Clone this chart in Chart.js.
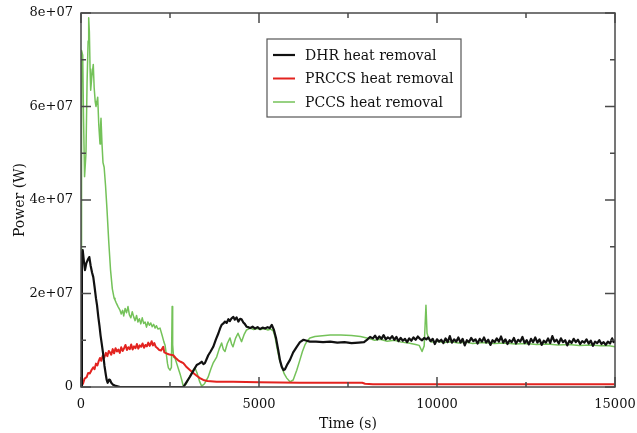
<!DOCTYPE html>
<html>
<head>
<meta charset="utf-8">
<title>Heat removal</title>
<script src="https://cdn.jsdelivr.net/npm/chart.js@4.4.1/dist/chart.umd.min.js"></script>
<style>
  body { margin: 0; background: #fff; }
  #wrap { width: 637px; height: 433px; position: relative; }
</style>
</head>
<body>
<div id="wrap"><canvas id="power-chart"></canvas></div>
<script>
// Heat removal per system, time in s, power in MW (scaled to W below)
const dhrTime = [0, 25, 48, 80, 112, 150, 190, 233, 270, 310, 345, 380, 420, 450, 486, 520, 550, 580, 620, 660, 700, 722, 750, 790, 815, 850, 900, 950, 1000, 1100, 2850, 2875,
  2960, 3060, 3150, 3250, 3320, 3390, 3440, 3480, 3530, 3575, 3640, 3715, 3790, 3860, 3910, 3950, 4000, 4045, 4090, 4140, 4180, 4230, 4280, 4320, 4370, 4420, 4470, 4510,
  4560, 4600, 4650, 4700, 4750, 4820, 4890, 4960, 5030, 5100, 5170, 5240, 5300, 5360, 5420, 5480, 5540, 5590, 5640, 5690, 5730, 5800, 5870, 5960, 6060, 6150, 6250, 6340,
  6430, 6600, 6800, 7000, 7200, 7400, 7600, 7800, 7950, 8050, 8120,
  8200, 8260, 8320, 8380, 8440, 8500, 8560, 8620, 8680, 8740, 8800, 8860, 8920, 8980, 9040, 9100, 9160, 9220, 9280, 9340, 9400, 9460, 9520, 9580, 9640, 9700, 9760, 9820,
  9880, 9940, 10000, 10060, 10120, 10180, 10240, 10300, 10360, 10420, 10480, 10540, 10600, 10660, 10720, 10780, 10840, 10900, 10960, 11020, 11080, 11140, 11200, 11260,
  11320, 11380, 11440, 11500, 11560, 11620, 11680, 11740, 11800, 11860, 11920, 11980, 12040, 12100, 12160, 12220, 12280, 12340, 12400, 12460, 12520, 12580, 12640, 12700,
  12760, 12820, 12880, 12940, 13000, 13060, 13120, 13180, 13240, 13300, 13360, 13420, 13480, 13540, 13600, 13660, 13720, 13780, 13840, 13900, 13960, 14020, 14080, 14140,
  14200, 14260, 14320, 14380, 14440, 14500, 14560, 14620, 14680, 14740, 14800, 14860, 14920, 14960, 15000];
const dhrPower = [0, 28.5, 29.3, 27.0, 25.0, 26.5, 27.2, 27.8, 26.0, 24.5, 23.5, 21.5, 19.0, 17.5, 15.0, 13.0, 11.0, 9.4, 7.2, 4.5, 2.5, 1.5, 0.9, 1.6, 1.5, 0.9, 0.5, 0.3, 0.2, 0, 0, 0,
  1.0, 2.2, 3.4, 4.7, 5.0, 5.4, 4.9, 5.1, 6.0, 6.8, 7.6, 8.6, 10.2, 11.5, 12.6, 13.3, 13.6, 14.0, 13.7, 14.5, 14.1, 14.7, 15.0, 14.4, 14.9, 14.0, 14.6, 14.5,
  13.8, 13.5, 12.9, 12.8, 12.6, 12.9, 12.5, 12.8, 12.4, 12.7, 12.5, 12.8, 12.6, 13.3, 12.2, 10.4, 7.9, 5.7, 4.3, 3.6, 3.8, 4.9, 5.8, 7.4, 8.6, 9.6, 10.1, 9.9,
  9.7, 9.7, 9.6, 9.7, 9.5, 9.6, 9.4, 9.5, 9.6, 10.2, 10.7,
  10.4, 11.0, 10.2, 10.8, 10.3, 11.1, 10.2, 10.6, 10.3, 10.9, 10.1, 10.7, 9.8, 10.5, 9.9, 10.3, 9.6, 10.4, 9.9, 10.6, 10.1, 10.8, 10.3, 10.0, 10.5, 10.2, 10.6, 9.8,
  10.3, 9.2, 10.2, 9.7, 10.1, 9.4, 10.4, 9.6, 10.9, 9.5, 10.2, 9.7, 10.6, 9.5, 10.3, 8.9, 10.0, 9.6, 10.5, 9.8, 10.2, 9.3, 10.3, 9.7,
  10.6, 9.5, 10.1, 9.0, 10.0, 9.6, 10.4, 9.7, 10.8, 9.5, 10.2, 9.2, 10.0, 9.6, 10.5, 9.3, 10.1, 9.7, 10.7, 9.4, 10.0, 9.1, 10.3, 9.6,
  10.6, 9.5, 10.2, 9.0, 9.9, 9.5, 10.4, 9.4, 10.9, 9.7, 10.1, 9.3, 10.4, 9.6, 10.0, 8.9, 9.9, 9.4, 10.3, 9.6, 10.1, 9.2, 9.8, 9.5,
  10.2, 9.3, 9.9, 8.8, 9.7, 9.4, 10.0, 9.2, 9.6, 9.0, 9.7, 9.3, 10.4, 9.6, 9.8];

const prccsTime = [0, 60, 100, 160, 200, 250, 300, 345, 380, 420, 460, 500, 534, 570, 610, 650, 700, 740, 780, 815, 850, 890, 930, 970, 1010, 1050, 1090, 1130, 1170,
  1210, 1250, 1290, 1330, 1370, 1410, 1450, 1490, 1530, 1570, 1610, 1650, 1690, 1730, 1770, 1810, 1850, 1890, 1930, 1960, 1985, 2020, 2060, 2100, 2150, 2200, 2250,
  2310, 2340, 2400, 2460, 2520, 2590, 2660, 2730, 2800, 2875, 2950, 3050, 3155, 3250, 3340, 3435, 3550, 3810, 4270, 5000, 6150, 7000, 7900, 7980, 8200, 15000];
const prccsPower = [0, 0.8, 1.8, 2.1, 3.0, 2.9, 3.7, 4.2, 3.8, 5.0, 4.6, 5.6, 6.2, 5.6, 6.7, 6.2, 7.3, 6.6, 7.7, 7.4, 6.9, 8.1, 7.2, 8.3, 7.6, 8.0, 7.3, 8.5, 7.7,
  8.3, 9.0, 7.9, 8.5, 8.1, 9.1, 8.0, 8.7, 8.3, 9.2, 8.2, 8.9, 8.6, 9.3, 8.4, 9.0, 8.7, 9.5, 8.8, 9.3, 9.8, 8.9, 9.4, 8.6, 8.3, 7.9, 7.8,
  8.6, 7.4, 7.2, 7.0, 6.9, 6.8, 6.2, 5.7, 5.4, 5.1, 4.4, 3.7, 3.0, 2.4, 1.9, 1.5, 1.3, 1.1, 1.1, 1.0, 0.9, 0.9, 0.9, 0.7, 0.6, 0.6];

const pccsTime = [0, 15, 48, 70, 100, 140, 170, 200, 216, 235, 255, 272, 300, 345, 370, 400, 421, 445, 469, 500, 534, 550, 562, 590, 618, 650, 690, 730, 780, 830,
  880, 930, 955, 990, 1040, 1090, 1130, 1170, 1200, 1240, 1280, 1320, 1360, 1400, 1440, 1480, 1520, 1560, 1600, 1640, 1680, 1720, 1760, 1800, 1840, 1880, 1920, 1960,
  2000, 2040, 2080, 2120, 2160, 2220, 2280, 2330, 2360, 2400, 2430, 2455, 2500, 2540, 2560, 2575, 2600, 2640, 2690, 2740, 2790, 2830, 2875, 2950, 3050, 3130, 3200,
  3260, 3330, 3390, 3470, 3570, 3650, 3710, 3810, 3880, 3950, 4000, 4045, 4110, 4185, 4230, 4270, 4340, 4410, 4460, 4510, 4580, 4650, 4750, 4850, 4950, 5050, 5150,
  5250, 5330, 5400, 5450, 5500, 5570, 5640, 5710, 5780, 5870, 5960, 6060, 6150, 6220, 6290, 6360, 6430, 6570, 6710, 7000, 7300, 7600, 7850, 8030, 8120, 8250, 8400,
  8600, 8800, 9000, 9200, 9400, 9500, 9580, 9640, 9690, 9720, 9780, 9850, 10000, 10200, 10400, 10600, 10800, 11000, 11300, 11600, 11900, 12200, 12500, 12800, 13100,
  13400, 13700, 14000, 14300, 14600, 14800, 15000];
const pccsPower = [0, 72, 71, 58, 45, 50, 65, 74, 79, 76, 68, 63.5, 66, 69, 64, 61, 60, 61, 62, 56, 52, 56, 57.5, 52, 48, 47, 43, 38, 31, 25,
  21, 19, 18.6, 18.0, 17.2, 16.5, 15.6, 16.4, 15.2, 16.8, 15.9, 17.2, 15.4, 14.8, 16.1, 15.0, 14.2, 15.3, 13.9, 14.6, 13.5, 14.8, 13.6, 13.9, 12.8, 13.9, 13.2, 13.7,
  12.9, 13.4, 12.6, 13.1, 12.4, 12.6, 11.0, 9.6, 9.0, 6.8, 5.0, 4.1, 3.6, 4.2, 17.2, 9.0, 6.4, 6.2, 5.0, 3.8, 2.6, 1.5, 0.1, 0.6, 2.2, 3.4, 4.1,
  3.0, 1.2, 0.2, 0.7, 2.1, 3.9, 5.1, 6.4, 8.1, 9.4, 8.0, 7.6, 9.3, 10.5, 9.2, 8.6, 10.4, 11.5, 10.6, 9.7, 11.2, 12.2, 12.6, 12.3, 12.5, 12.3, 12.5,
  12.2, 12.4, 12.0, 10.8, 8.6, 6.0, 4.3, 2.8, 1.9, 1.1, 1.5, 3.6, 5.8, 7.6, 9.0, 9.9, 10.5, 10.8, 10.9, 11.1, 11.1, 11.0, 10.8, 10.5, 10.3, 10.0, 10.2,
  9.8, 10.0, 9.6, 9.4, 9.1, 8.9, 7.6, 8.8, 17.5, 11.5, 10.1, 9.6, 9.8, 9.5, 9.7, 9.4, 9.6, 9.3, 9.5, 9.3, 9.4, 9.2, 9.3, 9.1, 9.2,
  9.0, 9.1, 8.9, 9.0, 8.8, 8.9, 8.6];

const seriesLabels = ['DHR heat removal', 'PRCCS heat removal', 'PCCS heat removal'];
const seriesColors = ['#111111', '#e3231f', '#74c259'];
const xTicks = [0, 5000, 10000, 15000];
const yTicks = [0, 2e7, 4e7, 6e7, 8e7];

const toPoints = (ts, vs) => ts.map((t, i) => ({ x: t, y: vs[i] * 1e6 }));
const serif = 'DejaVu Serif';

// frame round the plot with inward major/minor ticks on all four sides
const framePlugin = {
  id: 'frame',
  afterDatasetsDraw(chart) {
    const { ctx, chartArea: { left, right, top, bottom }, scales: { x, y } } = chart;
    ctx.save();
    ctx.strokeStyle = '#4a4a4a';
    ctx.lineWidth = 1.5;
    ctx.strokeRect(left, top, right - left, bottom - top);
    ctx.beginPath();
    xTicks.forEach((v, i) => {
      const px = x.getPixelForValue(v);
      ctx.moveTo(px, bottom); ctx.lineTo(px, bottom - 10);
      ctx.moveTo(px, top); ctx.lineTo(px, top + 10);
      if (i < xTicks.length - 1) {
        const mx = x.getPixelForValue((v + xTicks[i + 1]) / 2);
        ctx.moveTo(mx, bottom); ctx.lineTo(mx, bottom - 5);
        ctx.moveTo(mx, top); ctx.lineTo(mx, top + 5);
      }
    });
    yTicks.forEach((v, i) => {
      const py = y.getPixelForValue(v);
      ctx.moveTo(left, py); ctx.lineTo(left + 10, py);
      ctx.moveTo(right, py); ctx.lineTo(right - 10, py);
      if (i < yTicks.length - 1) {
        const my = y.getPixelForValue((v + yTicks[i + 1]) / 2);
        ctx.moveTo(left, my); ctx.lineTo(left + 5, my);
        ctx.moveTo(right, my); ctx.lineTo(right - 5, my);
      }
    });
    ctx.stroke();
    ctx.restore();
  }
};

// boxed legend inside the plot, upper middle
const legendBox = {
  id: 'legendBox',
  afterDraw(chart) {
    const { ctx, chartArea } = chart;
    const bx = chartArea.left + 186, by = chartArea.top + 26, bw = 194, bh = 78;
    ctx.save();
    ctx.fillStyle = '#fff';
    ctx.fillRect(bx, by, bw, bh);
    ctx.strokeStyle = '#555';
    ctx.lineWidth = 1.2;
    ctx.strokeRect(bx, by, bw, bh);
    ctx.font = '14px "' + serif + '"';
    ctx.textBaseline = 'middle';
    ctx.fillStyle = '#111';
    chart.data.datasets.forEach((ds, i) => {
      const ry = by + 16 + i * 23.5;
      ctx.strokeStyle = ds.borderColor;
      ctx.lineWidth = ds.borderWidth;
      ctx.beginPath();
      ctx.moveTo(bx + 6, ry);
      ctx.lineTo(bx + 28, ry);
      ctx.stroke();
      ctx.fillText(ds.label, bx + 38, ry + 1);
    });
    ctx.restore();
  }
};

window.addEventListener('load', function () {
  const ctx = document.getElementById('power-chart').getContext('2d');
  new Chart(ctx, {
    type: 'line',
    data: {
      datasets: [
        { label: seriesLabels[0], data: toPoints(dhrTime, dhrPower), borderColor: seriesColors[0], borderWidth: 2.2 },
        { label: seriesLabels[1], data: toPoints(prccsTime, prccsPower), borderColor: seriesColors[1], borderWidth: 2 },
        { label: seriesLabels[2], data: toPoints(pccsTime, pccsPower), borderColor: seriesColors[2], borderWidth: 1.5 }
      ]
    },
    options: {
      responsive: true,
      maintainAspectRatio: false,
      animation: false,
      elements: { point: { radius: 0 }, line: { tension: 0, borderJoinStyle: 'round' } },
      layout: { padding: { left: 0, top: 13, right: 22, bottom: 0 } },
      plugins: { legend: { display: false }, tooltip: { enabled: false } },
      scales: {
        x: {
          type: 'linear',
          min: 0, max: 15000,
          afterFit(scale) { scale.height = 46; scale.paddingLeft = 0; scale.paddingRight = 0; },
          grid: { display: false, drawTicks: false },
          border: { display: false },
          ticks: {
            stepSize: 5000, maxRotation: 0, autoSkip: false, padding: 10,
            color: '#111', font: { family: serif, size: 13 },
            callback: v => String(v)
          },
          title: { display: true, text: 'Time (s)', color: '#111', font: { family: serif, size: 14 }, padding: { top: 0, bottom: 0 } }
        },
        y: {
          min: 0, max: 8e7,
          afterFit(scale) { scale.width = 81; scale.paddingTop = 0; scale.paddingBottom = 0; },
          grid: { display: false, drawTicks: false },
          border: { display: false },
          ticks: {
            stepSize: 2e7, padding: 8,
            color: '#111', font: { family: serif, size: 13 },
            callback: v => v === 0 ? '0' : v.toExponential(0).replace('e+', 'e+0')
          },
          title: { display: true, text: 'Power (W)', color: '#111', font: { family: serif, size: 14 }, padding: { top: 12, bottom: 0 } }
        }
      }
    },
    plugins: [framePlugin, legendBox]
  });
});
</script>
</body>
</html>
